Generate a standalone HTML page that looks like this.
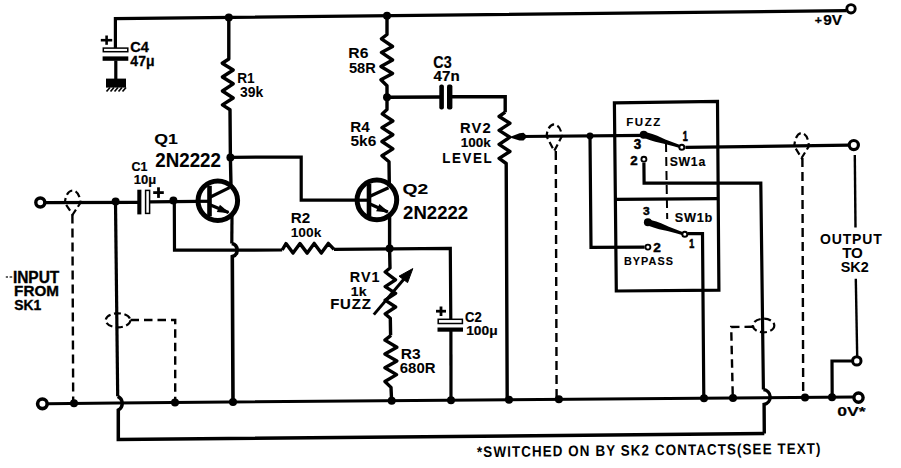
<!DOCTYPE html>
<html><head><meta charset="utf-8"><style>
html,body{margin:0;padding:0;background:#fff;width:901px;height:468px;overflow:hidden}
svg{display:block}
text{font-family:"Liberation Sans",sans-serif;font-weight:bold}
</style></head><body>
<svg width="901" height="468" viewBox="0 0 901 468">
<rect width="901" height="468" fill="#fff"/>
<g fill="none" stroke="#000" stroke-linejoin="miter" stroke-linecap="butt">
<polyline points="115.40,48.00 115.40,18.70 846.50,10.62" stroke-width="3.2" />
<rect x="103.3" y="48.1" width="24.5" height="3.6" stroke-width="1.5" fill="#fff"/>
<rect x="102.6" y="56.4" width="25.7" height="4.4" fill="#000" stroke="none"/>
<polyline points="115.80,60.50 115.80,79.00" stroke-width="3.2" />
<rect x="106" y="78.6" width="20" height="9" fill="#000" stroke="none"/>
<polyline points="110.00,87.50 106.50,91.50" stroke-width="1.6" />
<polyline points="114.00,87.50 110.50,91.50" stroke-width="1.6" />
<polyline points="118.00,87.50 114.50,91.50" stroke-width="1.6" />
<polyline points="122.00,87.50 118.50,91.50" stroke-width="1.6" />
<polyline points="126.00,87.50 122.50,91.50" stroke-width="1.6" />
<polyline points="100.80,40.20 112.20,40.20" stroke-width="2.6" />
<polyline points="106.60,35.50 106.60,44.80" stroke-width="2.6" />
<polyline points="228.80,17.51 228.80,59.00 222.20,63.20 233.20,70.00 222.40,77.00 233.20,83.80 222.40,91.00 233.20,98.00 222.40,104.90 230.00,109.70 230.40,157.50 231.00,186.00" stroke-width="3.4" stroke-linejoin="round"/>
<polyline points="230.40,157.30 301.20,157.00 301.20,200.20 358.00,200.20" stroke-width="3.2" />
<polyline points="387.00,15.84 387.00,34.50 381.40,38.80 392.60,46.50 381.40,52.40 392.60,60.00 380.90,66.50 392.60,73.50 380.90,79.80 387.00,85.70 387.00,97.30 387.00,109.60 382.20,113.90 392.90,121.00 381.90,127.60 392.90,134.70 381.90,141.50 392.90,148.90 381.90,155.70 389.00,161.70 389.30,185.00" stroke-width="3.4" stroke-linejoin="round"/>
<polyline points="387.00,97.30 440.60,97.00" stroke-width="3.6" />
<rect x="439.3" y="84.5" width="4.6" height="25" rx="2" fill="#000" stroke="none"/>
<rect x="447.0" y="84.5" width="5.4" height="25" rx="2" fill="#000" stroke="none"/>
<polyline points="450.50,96.80 505.20,96.60 505.20,112.20" stroke-width="3.4" />
<polyline points="505.20,112.20 499.10,116.50 509.90,123.30 499.10,130.40 509.90,137.20 499.10,144.40 509.90,151.50 499.10,158.40 506.20,163.50 507.20,399.78" stroke-width="3.4" stroke-linejoin="round"/>
<path d="M509,137.2 L519.5,133.2 L523.5,132.8 L527.5,136.6 L523.5,140.5 L519.5,140.6 Z" fill="#000" stroke="none"/>
<polyline points="522.00,136.50 644.30,135.40" stroke-width="3.2" />
<polygon points="642.76,137.55 650.29,140.34 655.28,141.87 663.94,143.76 673.65,146.32 681.36,148.53 682.24,145.87 674.71,143.08 665.37,139.39 657.27,135.78 652.35,134.06 644.64,131.85" fill="#000" stroke="none"/>
<circle cx="643.7" cy="134.7" r="4.0" fill="#000" stroke="none"/>
<polyline points="685.40,147.30 849.50,145.20" stroke-width="3.2" />
<circle cx="681.8" cy="147.2" r="2.5" fill="#fff" stroke-width="2.0"/>
<circle cx="853.8" cy="145.1" r="4.6" fill="#fff" stroke-width="3.2"/>
<polyline points="643.90,163.00 644.10,183.20 760.80,183.00 763.40,389.50" stroke-width="3.2" />
<path d="M763.4,389.5 A7.6,7.6 0 0 1 764.1,404.5 L764.3,433.58" stroke-width="3.4"/>
<circle cx="643.9" cy="159.3" r="2.5" fill="#fff" stroke-width="1.9"/>
<polyline points="590.00,135.80 591.00,247.30 644.60,247.20" stroke-width="3.2" />
<circle cx="590" cy="135.9" r="3.4" fill="#000" stroke="none"/>
<circle cx="647.9" cy="247.1" r="2.5" fill="#fff" stroke-width="1.9"/>
<polygon points="646.97,225.15 654.26,227.84 659.09,229.30 667.48,231.09 676.89,233.52 684.37,235.63 685.23,232.97 677.95,230.28 668.91,226.71 661.07,223.22 656.30,221.56 648.83,219.45" fill="#000" stroke="none"/>
<circle cx="647.9" cy="222.3" r="4.0" fill="#000" stroke="none"/>
<circle cx="684.8" cy="234.3" r="2.5" fill="#fff" stroke-width="2.0"/>
<polyline points="688.00,233.60 702.50,233.50 703.80,398.21" stroke-width="3.2" />
<path d="M614.4,102.8 L717.5,101.3 L718.9,290.2 L616.3,291.0 Z" stroke-width="3.2"/>
<polyline points="615.50,199.30 718.20,198.60" stroke-width="3.2" />
<polyline points="666.00,143.00 667.20,219.00" stroke-width="2.0" stroke-dasharray="9 5" stroke-dashoffset="0"/>
<polyline points="854.80,155.00 855.50,227.50" stroke-width="2.4" />
<polyline points="855.80,278.80 857.20,356.20" stroke-width="2.4" />
<circle cx="856.8" cy="360.9" r="4.2" fill="#fff" stroke-width="3.0"/>
<polyline points="853.00,361.00 832.00,361.00 832.20,397.18" stroke-width="3.2" />
<circle cx="858.5" cy="397.6" r="4.6" fill="#fff" stroke-width="3.4"/>
<polyline points="47.00,403.86 117.00,402.90 854.50,397.00" stroke-width="3.0" />
<circle cx="851.0" cy="8.8" r="4.2" fill="#fff" stroke-width="2.9"/>
<circle cx="40.3" cy="202.5" r="4.5" fill="#fff" stroke-width="3.4"/>
<circle cx="42.4" cy="403.8" r="4.8" fill="#fff" stroke-width="3.6"/>
<polyline points="44.30,202.70 138.00,202.30" stroke-width="3.2" />
<rect x="137.3" y="189.7" width="4.1" height="24.7" fill="#000" stroke="none"/>
<rect x="145.6" y="190.4" width="4.0" height="23.0" stroke-width="1.5" fill="#fff"/>
<polyline points="150.00,201.80 198.00,201.30" stroke-width="3.2" />
<polyline points="153.20,192.60 163.80,192.60" stroke-width="2.8" />
<polyline points="158.50,187.30 158.50,197.90" stroke-width="2.8" />
<polyline points="115.50,202.50 117.70,396.30" stroke-width="3.2" />
<path d="M117.7,396.3 A7.7,7.7 0 0 1 118.3,410 L118.3,439.59 L764.3,433.58" stroke-width="3.5"/>
<polyline points="174.30,200.60 174.50,250.20 282.20,250.00" stroke-width="3.2" />
<polyline points="282.20,250.00 286.00,243.60 293.00,253.10 300.00,243.60 307.20,253.10 314.20,243.40 321.30,253.10 328.30,243.40 334.00,249.40" stroke-width="3.4" stroke-linejoin="round"/>
<polyline points="334.00,249.40 450.30,248.40 450.80,320.00" stroke-width="3.2" />
<polyline points="232.00,216.00 231.80,243.50" stroke-width="3.2" />
<path d="M231.8,243.5 A6.7,6.7 0 0 1 232.3,256.5 L233,401.97" stroke-width="3.6"/>
<polyline points="389.60,216.00 389.60,248.60 390.00,268.00 385.20,272.00 395.50,279.80 385.20,286.60 395.60,293.40 385.20,300.20 395.60,307.00 385.20,313.90 390.30,318.20 390.60,335.40" stroke-width="3.4" stroke-linejoin="round"/>
<polyline points="391.00,335.40 384.90,340.10 396.90,347.30 384.90,354.10 396.90,361.00 384.90,367.80 396.60,374.60 384.90,381.50 391.00,387.40 391.60,400.70" stroke-width="3.4" stroke-linejoin="round"/>
<polyline points="373.80,314.60 404.00,279.00" stroke-width="3.0" />
<path d="M412.8,268.6 L399.0,276.2 L407.6,282.6 Z" fill="#000" stroke="#000" stroke-width="1" stroke-linejoin="round"/>
<rect x="438.2" y="319.3" width="24.2" height="4.2" stroke-width="1.5" fill="#fff"/>
<rect x="437.5" y="327.5" width="25.5" height="4.2" fill="#000" stroke="none"/>
<polyline points="450.90,331.00 451.00,400.23" stroke-width="3.2" />
<polyline points="436.00,311.20 446.00,311.20" stroke-width="2.8" />
<polyline points="441.00,306.50 441.00,316.00" stroke-width="2.8" />
<circle cx="217.8" cy="200.8" r="19.8" stroke-width="5.0"/>
<rect x="207.2" y="185.8" width="4.6" height="30.5" fill="#000" stroke="none"/>
<polyline points="210.50,197.00 229.50,187.60" stroke-width="3.2" />
<polyline points="210.50,205.00 228.50,212.60" stroke-width="3.3" />
<path d="M229.88,213.18 L216.81,212.01 L219.92,204.64 Z" fill="#000" stroke="none"/>
<polyline points="197.00,201.30 208.00,201.30" stroke-width="3.2" />
<circle cx="376.9" cy="199.9" r="19.8" stroke-width="5.0"/>
<rect x="366.7" y="183.8" width="4.6" height="32.79999999999998" fill="#000" stroke="none"/>
<polyline points="370.00,196.20 388.50,187.70" stroke-width="3.2" />
<polyline points="370.00,204.10 387.80,212.00" stroke-width="3.3" />
<path d="M389.17,212.61 L376.12,211.19 L379.37,203.88 Z" fill="#000" stroke="none"/>
<polyline points="356.00,200.20 367.00,200.20" stroke-width="3.2" />
<circle cx="228.8" cy="17.5051" r="4.0" fill="#000" stroke="none"/>
<circle cx="387" cy="15.844" r="4.0" fill="#000" stroke="none"/>
<circle cx="387" cy="97.3" r="4.0" fill="#000" stroke="none"/>
<circle cx="230.4" cy="157.4" r="4.0" fill="#000" stroke="none"/>
<circle cx="115.6" cy="201.6" r="4.0" fill="#000" stroke="none"/>
<circle cx="173.4" cy="200.6" r="4.0" fill="#000" stroke="none"/>
<circle cx="389.6" cy="248.6" r="4.0" fill="#000" stroke="none"/>
<circle cx="74" cy="403.244" r="4.0" fill="#000" stroke="none"/>
<circle cx="175" cy="402.436" r="4.0" fill="#000" stroke="none"/>
<circle cx="233" cy="401.972" r="4.0" fill="#000" stroke="none"/>
<circle cx="391.7" cy="400.7024" r="4.0" fill="#000" stroke="none"/>
<circle cx="451" cy="400.228" r="4.0" fill="#000" stroke="none"/>
<circle cx="509" cy="399.764" r="4.0" fill="#000" stroke="none"/>
<circle cx="558.9" cy="399.3648" r="4.0" fill="#000" stroke="none"/>
<circle cx="704" cy="398.204" r="4.0" fill="#000" stroke="none"/>
<circle cx="733" cy="397.972" r="4.0" fill="#000" stroke="none"/>
<circle cx="805" cy="397.396" r="4.0" fill="#000" stroke="none"/>
<circle cx="832" cy="397.18" r="4.0" fill="#000" stroke="none"/>
<path d="M65.00,203.00 A7.7,12.5 0 0 1 80.40,203.00 L72.70,214.50 Z" stroke-width="2.2" stroke-dasharray="7 3.5" stroke-dashoffset="2"/><polyline points="72.40,214.50 73.20,403.25" stroke-width="2.4" stroke-dasharray="9 5" stroke-dashoffset="0"/>
<path d="M546.70,136.60 A7.5,12.2 0 0 1 561.70,136.60 L554.20,151.00 Z" stroke-width="2.2" stroke-dasharray="7 3.5" stroke-dashoffset="2"/><polyline points="555.80,151.00 556.60,398.87" stroke-width="2.4" stroke-dasharray="9 5" stroke-dashoffset="0"/>
<path d="M794.40,146.40 A7.2,13.4 0 0 1 808.80,146.40 L801.60,158.00 Z" stroke-width="2.2" stroke-dasharray="7 3.5" stroke-dashoffset="2"/><polyline points="802.40,158.00 803.20,396.90" stroke-width="2.4" stroke-dasharray="9 5" stroke-dashoffset="0"/>
<ellipse cx="118.0" cy="320.3" rx="12.3" ry="7.0" stroke-width="2.2" stroke-dasharray="7 3.5"/>
<polyline points="130.50,320.00 175.20,320.00 175.20,402.44" stroke-width="2.4" stroke-dasharray="8.5 5" stroke-dashoffset="0"/>
<ellipse cx="763.6" cy="325.5" rx="10.7" ry="6.8" stroke-width="2.2" stroke-dasharray="7 3.5"/>
<polyline points="753.00,326.80 731.20,327.00 732.80,397.97" stroke-width="2.4" stroke-dasharray="8.5 5" stroke-dashoffset="0"/>
</g>
<g font-family="Liberation Sans" font-weight="bold" font-size="100" fill="#000">
<text transform="translate(130.37,52.31) scale(0.1455,0.1394)" stroke="#000" stroke-width="2.11">C4</text>
<text transform="translate(130.37,65.95) scale(0.1402,0.1493)" stroke="#000" stroke-width="2.07">47&#956;</text>
<text transform="translate(237.24,82.70) scale(0.1364,0.1391)">R1</text>
<text transform="translate(239.92,97.36) scale(0.1394,0.1392)">39k</text>
<text transform="translate(154.24,144.24) scale(0.1772,0.1456)" stroke="#000" stroke-width="0.62">Q1</text>
<text transform="translate(155.29,167.35) scale(0.1872,0.1971)" stroke="#000" stroke-width="0.52">2N2222</text>
<text transform="translate(131.50,170.57) scale(0.1248,0.1338)" stroke="#000" stroke-width="1.55">C1</text>
<text transform="translate(133.72,184.30) scale(0.1306,0.1333)" stroke="#000" stroke-width="1.52">10&#956;</text>
<text transform="translate(348.30,58.15) scale(0.1573,0.1465)">R6</text>
<text transform="translate(348.96,72.76) scale(0.1466,0.1394)">58R</text>
<text transform="translate(350.33,131.50) scale(0.1525,0.1464)">R4</text>
<text transform="translate(350.54,146.25) scale(0.1544,0.1459)">5k6</text>
<text transform="translate(402.48,194.18) scale(0.1928,0.1533)" stroke="#000" stroke-width="0.58">Q2</text>
<text transform="translate(403.09,218.85) scale(0.1857,0.1929)" stroke="#000" stroke-width="0.53">2N2222</text>
<text transform="translate(290.74,222.70) scale(0.1521,0.1457)">R2</text>
<text transform="translate(290.67,236.97) scale(0.1380,0.1338)">100k</text>
<text transform="translate(349.64,282.35) scale(0.1437,0.1478)" stroke="#000" stroke-width="0.69" letter-spacing="8">RV1</text>
<text transform="translate(350.83,296.12) scale(0.1405,0.1308)" stroke="#000" stroke-width="1.11">1k</text>
<text transform="translate(330.13,308.99) scale(0.1491,0.1393)" stroke="#000" stroke-width="1.04" letter-spacing="6">FUZZ</text>
<text transform="translate(400.71,359.45) scale(0.1556,0.1479)">R3</text>
<text transform="translate(399.80,372.56) scale(0.1494,0.1437)">680R</text>
<text transform="translate(465.08,321.75) scale(0.1308,0.1507)" stroke="#000" stroke-width="1.42">C2</text>
<text transform="translate(466.17,334.60) scale(0.1377,0.1333)" stroke="#000" stroke-width="1.48">100&#956;</text>
<text transform="translate(433.33,68.44) scale(0.1433,0.1577)" stroke="#000" stroke-width="1.33">C3</text>
<text transform="translate(433.60,80.90) scale(0.1512,0.1406)" stroke="#000" stroke-width="1.37">47n</text>
<text transform="translate(460.02,133.35) scale(0.1475,0.1457)" stroke="#000" stroke-width="0.68" letter-spacing="8">RV2</text>
<text transform="translate(460.77,147.49) scale(0.1350,0.1358)" stroke="#000" stroke-width="1.11">100k</text>
<text transform="translate(442.21,162.55) scale(0.1336,0.1464)" stroke="#000" stroke-width="0.71" letter-spacing="12">LEVEL</text>
<text transform="translate(626.15,126.44) scale(0.1149,0.1143)" stroke="#000" stroke-width="0.87" letter-spacing="14">FUZZ</text>
<text transform="translate(633.78,149.11) scale(0.1340,0.1437)" stroke="#000" stroke-width="3.60">3</text>
<text transform="translate(682.86,141.40) scale(0.0894,0.1449)" stroke="#000" stroke-width="5.12">1</text>
<text transform="translate(630.25,165.25) scale(0.1327,0.1214)" stroke="#000" stroke-width="3.94">2</text>
<text transform="translate(669.71,166.05) scale(0.1224,0.1254)" stroke="#000" stroke-width="1.21" letter-spacing="6">SW1a</text>
<text transform="translate(643.01,214.63) scale(0.1200,0.1169)" stroke="#000" stroke-width="4.22">3</text>
<text transform="translate(674.69,222.10) scale(0.1275,0.1291)" stroke="#000" stroke-width="1.17" letter-spacing="6">SW1b</text>
<text transform="translate(689.36,247.70) scale(0.0894,0.1319)" stroke="#000" stroke-width="5.42">1</text>
<text transform="translate(653.34,251.75) scale(0.1367,0.1314)" stroke="#000" stroke-width="3.73">2</text>
<text transform="translate(623.89,264.65) scale(0.1084,0.1014)" stroke="#000" stroke-width="0.95" letter-spacing="10">BYPASS</text>
<text transform="translate(814.66,24.06) scale(0.1220,0.1137)" stroke="#000" stroke-width="2.55">+</text>
<text transform="translate(823.18,25.01) scale(0.1547,0.1387)" stroke="#000" stroke-width="1.36">9V</text>
<text transform="translate(820.04,244.45) scale(0.1401,0.1521)" letter-spacing="6">OUTPUT</text>
<text transform="translate(842.15,258.35) scale(0.1515,0.1493)">TO</text>
<text transform="translate(840.67,272.06) scale(0.1441,0.1437)">SK2</text>
<text transform="translate(837.29,416.47) scale(0.1764,0.1338)" stroke="#000" stroke-width="1.29">0V*</text>
<text transform="rotate(-0.58,648.50,450.15) translate(477.00,455.40) scale(0.1343,0.1522)" letter-spacing="8">*SWITCHED ON BY SK2 CONTACTS(SEE TEXT)</text>
<text transform="translate(12.89,282.87) scale(0.1550,0.1579)" stroke="#000" stroke-width="2.24">INPUT</text>
<text transform="translate(14.11,296.28) scale(0.1525,0.1500)" stroke="#000" stroke-width="2.31">FROM</text>
<text transform="translate(14.16,310.08) scale(0.1389,0.1415)" stroke="#000" stroke-width="2.50">SK1</text>
</g>
<rect x="5.8" y="276.4" width="2.2" height="1.2" fill="#000"/><rect x="9.6" y="276.4" width="2.6" height="1.2" fill="#000"/>
</svg>
</body></html>
